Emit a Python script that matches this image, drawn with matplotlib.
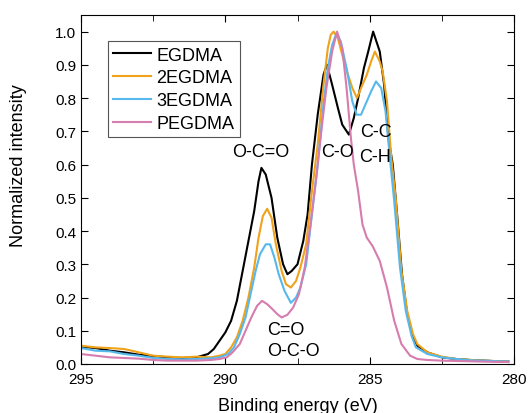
import matplotlib.pyplot as plt
import numpy as np

plt.rcParams['font.family'] = ['Liberation Sans', 'DejaVu Sans']

# binding energy (eV) and normalized intensity
e_egdma = [295, 294.5, 294, 293.5, 293, 292.5, 292, 291.5, 291, 290.6, 290.4, 290.2, 290.0,
           289.8, 289.6, 289.4, 289.2, 289.0, 288.85, 288.75, 288.6, 288.4, 288.2, 288.0,
           287.85, 287.7, 287.5, 287.3, 287.15, 287.0, 286.8, 286.6, 286.48, 286.3, 286.1,
           285.95, 285.72, 285.55, 285.4, 285.2, 285.05, 284.88, 284.65, 284.5, 284.35,
           284.2, 284.05, 283.88, 283.7, 283.5, 283.35, 283.0, 282.5, 282.0, 281.5, 281.0,
           280.5, 280.2]
i_egdma = [0.052, 0.048, 0.04, 0.035, 0.028, 0.024, 0.02, 0.018, 0.02, 0.03, 0.045, 0.07, 0.095,
           0.13, 0.19, 0.28, 0.37, 0.46, 0.55, 0.59, 0.57, 0.50, 0.38, 0.30,
           0.27, 0.28, 0.30, 0.37, 0.45, 0.60, 0.75, 0.87, 0.90, 0.84, 0.77,
           0.72, 0.69, 0.74, 0.80, 0.89, 0.94, 1.0, 0.94, 0.84, 0.68,
           0.60, 0.45, 0.27, 0.15, 0.08, 0.055, 0.035, 0.02, 0.015, 0.012, 0.01,
           0.008, 0.008]

e_2egdma = [295, 294.5, 294, 293.5, 293, 292.5, 292, 291.5, 291, 290.5, 290.2, 290.0, 289.8,
            289.6, 289.4, 289.2, 289.0, 288.85, 288.7, 288.55, 288.4, 288.25, 288.05, 287.9,
            287.73, 287.55, 287.4, 287.2, 287.0, 286.8, 286.6, 286.45, 286.35, 286.25, 286.1,
            285.95, 285.75, 285.6, 285.44, 285.3, 285.1, 284.95, 284.82, 284.65, 284.55,
            284.4, 284.25, 284.1, 283.9, 283.7, 283.5, 283.35, 283.0, 282.5, 282.0, 281.5,
            281.0, 280.5, 280.2]
i_2egdma = [0.055, 0.05, 0.048, 0.045, 0.035, 0.025, 0.022, 0.02, 0.022, 0.02, 0.025, 0.03, 0.05,
            0.08, 0.13, 0.20, 0.29, 0.38, 0.445, 0.467, 0.44, 0.36, 0.28, 0.24,
            0.23, 0.25, 0.29, 0.36, 0.52, 0.66, 0.84, 0.95, 0.99, 1.0, 0.98,
            0.93, 0.87, 0.83, 0.80, 0.83, 0.87, 0.91, 0.94, 0.91, 0.88,
            0.79, 0.62, 0.50, 0.28, 0.16, 0.09, 0.06, 0.035, 0.022, 0.015, 0.012,
            0.01, 0.008, 0.008]

e_3egdma = [295, 294.5, 294, 293.5, 293, 292.5, 292, 291.5, 291, 290.5, 290.2, 289.9, 289.7,
            289.5, 289.3, 289.1, 288.95, 288.8, 288.6, 288.45, 288.3, 288.15, 287.95, 287.73,
            287.55, 287.4, 287.2, 287.0, 286.8, 286.6, 286.45, 286.3, 286.15, 286.0, 285.8,
            285.6, 285.45, 285.3, 285.1, 284.95, 284.78, 284.6, 284.45, 284.3, 284.15,
            283.95, 283.75, 283.55, 283.4, 283.0, 282.5, 282.0, 281.5, 281.0, 280.5, 280.2]
i_3egdma = [0.048, 0.04, 0.038, 0.03, 0.025, 0.018, 0.015, 0.014, 0.015, 0.017, 0.02, 0.03, 0.05,
            0.09, 0.14, 0.22, 0.28, 0.33, 0.36, 0.36, 0.32, 0.27, 0.22, 0.184,
            0.20, 0.23, 0.30, 0.45, 0.60, 0.78, 0.89, 0.96, 0.995, 0.97, 0.89,
            0.79, 0.75, 0.75, 0.79, 0.82, 0.85, 0.83, 0.76, 0.62, 0.49,
            0.29, 0.16, 0.085, 0.05, 0.03, 0.02, 0.015, 0.011, 0.01, 0.008, 0.008]

e_pegdma = [295, 294.5, 294, 293.5, 293, 292.5, 292, 291.5, 291, 290.5, 290.2, 289.95, 289.75,
            289.5, 289.3, 289.1, 288.9, 288.73, 288.55, 288.38, 288.2, 288.05, 287.85, 287.65,
            287.45, 287.25, 287.05, 286.85, 286.65, 286.5, 286.3, 286.13, 285.95, 285.8,
            285.65, 285.55, 285.4, 285.25, 285.1, 284.9, 284.65, 284.4, 284.15, 283.9,
            283.6, 283.35, 283.0, 282.5, 282.0, 281.5, 281.0, 280.5, 280.2]
i_pegdma = [0.03, 0.025, 0.02, 0.018, 0.016, 0.012, 0.01, 0.01, 0.01, 0.012, 0.015, 0.02, 0.035,
            0.06, 0.10, 0.14, 0.175, 0.19, 0.18, 0.166, 0.15, 0.14, 0.148, 0.17,
            0.21, 0.29, 0.42, 0.56, 0.72, 0.83, 0.94, 1.0, 0.95, 0.83,
            0.68, 0.60, 0.52, 0.42, 0.38, 0.355, 0.31, 0.23, 0.13, 0.06,
            0.025, 0.015, 0.012, 0.01, 0.009, 0.008, 0.007, 0.006, 0.006]

series = [
    ('EGDMA', e_egdma, i_egdma, 'black'),
    ('2EGDMA', e_2egdma, i_2egdma, '#EFA21A'),
    ('3EGDMA', e_3egdma, i_3egdma, '#56B8EC'),
    ('PEGDMA', e_pegdma, i_pegdma, '#D67CAE'),
]

fig = plt.figure(figsize=(5.28, 4.14), dpi=100)
ax = fig.add_axes([0.1534, 0.1184, 0.8201, 0.843])

for name, e, i, c in series:
    ax.plot(e, i, color=c, lw=1.5, label=name)

ax.set_xlim(295, 280)
ax.set_ylim(0, 1.05)
ax.set_xticks([295, 290, 285, 280])
ax.set_xticks([292.5, 287.5, 282.5], minor=True)
ax.set_yticks(np.arange(0, 1.01, 0.1))
ax.set_yticklabels(['%.1f' % v for v in np.arange(0, 1.01, 0.1)])
ax.tick_params(which='both', direction='in', top=True, right=True, labelsize=11)
ax.tick_params(which='major', length=5)
ax.tick_params(which='minor', length=4)
ax.tick_params(axis='x', pad=6)
ax.tick_params(axis='y', labelright=False)

ax.set_xlabel('Binding energy (eV)', fontsize=13, labelpad=8)
ax.set_ylabel('Normalized intensity', fontsize=13)
ax.yaxis.set_label_coords(-0.125, 0.57)

ax.text(288.77, 0.64, 'O-C=O', fontsize=13, ha='center', va='center')
ax.text(286.1, 0.64, 'C-O', fontsize=13, ha='center', va='center')
ax.text(284.8, 0.70, 'C-C', fontsize=13, ha='center', va='center')
ax.text(284.8, 0.625, 'C-H', fontsize=13, ha='center', va='center')
ax.text(288.56, 0.105, 'C=O', fontsize=13, ha='left', va='center')
ax.text(288.56, 0.04, 'O-C-O', fontsize=13, ha='left', va='center')

leg = ax.legend(loc='upper left', bbox_to_anchor=(0.062, 0.925), fontsize=13,
                frameon=True, fancybox=False, edgecolor='#555555', framealpha=1,
                handlelength=2.1, handletextpad=0.3, borderpad=0.3, labelspacing=0.32,
                borderaxespad=0)
leg.get_frame().set_linewidth(0.8)

fig.savefig('out.png', dpi=100)
